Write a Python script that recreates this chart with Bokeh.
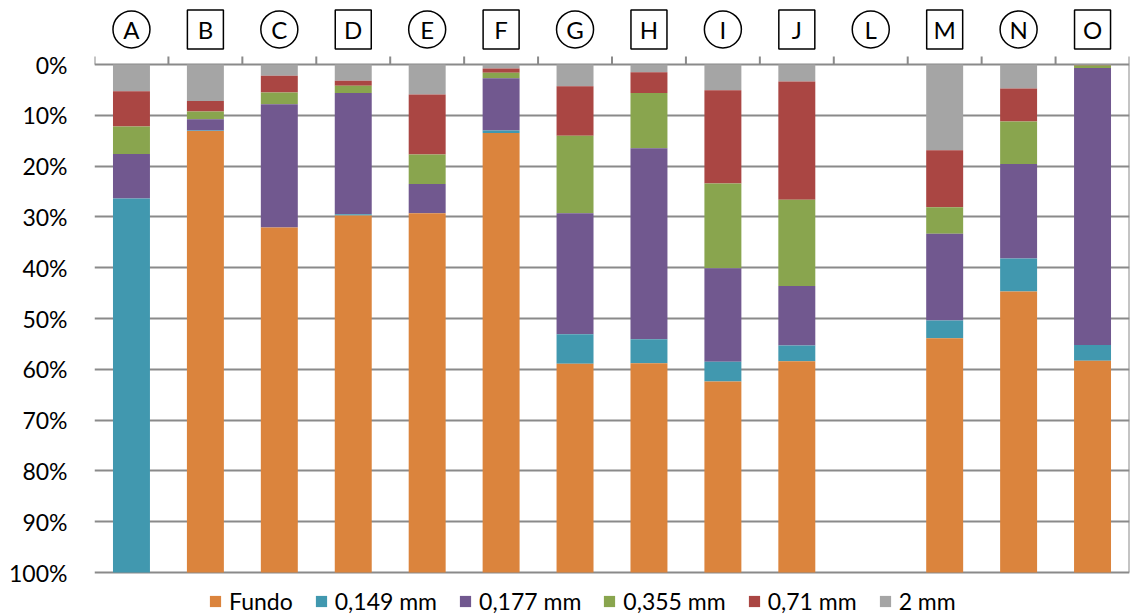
from bokeh.plotting import figure
from bokeh.models import (ColumnDataSource, FactorRange, Range1d, FixedTicker,
                          PrintfTickFormatter, Legend, LegendItem)
from bokeh.core.properties import value
from bokeh.embed import file_html
from bokeh.resources import INLINE

# Sample identifiers and the badge shape drawn around each one
samples = ["A", "B", "C", "D", "E", "F", "G", "H", "I", "J", "L", "M", "N", "O"]
badges = ["circle", "square", "circle", "square", "circle", "square", "circle",
          "square", "circle", "square", "circle", "square", "circle", "square"]

# Retained fraction per sieve (percent of sample mass)
mm_2 = [5.25, 7.2, 2.2, 3.2, 5.9, 0.8, 4.3, 1.5, 5.05, 3.35, 0, 16.9, 4.7, 0.1]
mm_071 = [6.95, 2.05, 3.3, 1.0, 11.8, 0.8, 9.7, 4.1, 18.35, 23.25, 0, 11.2, 6.5, 0.1]
mm_0355 = [5.4, 1.55, 2.3, 1.4, 5.8, 1.1, 15.3, 10.9, 16.7, 17.0, 0, 5.2, 8.4, 0.5]
mm_0177 = [8.8, 2.2, 24.3, 23.9, 5.8, 10.3, 23.8, 37.6, 18.4, 11.7, 0, 17.1, 18.6, 54.5]
mm_0149 = [73.6, 0.1, 0, 0.2, 0, 0.5, 5.8, 4.7, 3.9, 3.1, 0, 3.5, 6.5, 3.1]
fundo = [0, 86.9, 67.9, 70.3, 70.7, 86.5, 41.1, 41.2, 37.6, 41.6, 0, 46.1, 55.3, 41.7]

series_keys = ["mm_2", "mm_071", "mm_0355", "mm_0177", "mm_0149", "fundo"]
series_labels = ["2 mm", "0,71 mm", "0,355 mm", "0,177 mm", "0,149 mm", "Fundo"]
series_colors = ["#A5A5A5", "#AA4643", "#89A54E", "#71588F", "#4198AF", "#DB843D"]
y_ticks = [0, 10, 20, 30, 40, 50, 60, 70, 80, 90, 100]

FONT = "Lato"
GRID = "#8A8A8A"

source = ColumnDataSource(dict(
    sample=samples, mm_2=mm_2, mm_071=mm_071, mm_0355=mm_0355,
    mm_0177=mm_0177, mm_0149=mm_0149, fundo=fundo,
))

# The frame covers the whole page height; the percent scale runs from the
# top axis line (0%) down to 100%, with room above for badges and below for
# the legend.
p = figure(
    width=1131, height=615,
    x_range=FactorRange(*samples, range_padding=0),
    y_range=Range1d(108.46, -12.6),
    x_axis_location=None,
    output_backend="svg", toolbar_location=None,
    min_border_left=94, min_border_right=2, min_border_top=0, min_border_bottom=0,
)
p.outline_line_color = None
p.background_fill_color = "white"
p.border_fill_color = "white"
p.xgrid.visible = False

p.yaxis.ticker = FixedTicker(ticks=y_ticks)
p.yaxis.formatter = PrintfTickFormatter(format="%d%%")
p.yaxis.axis_line_color = None
p.yaxis.major_tick_line_color = None
p.yaxis.minor_tick_line_color = None
p.yaxis.major_label_standoff = 21
p.yaxis.major_label_text_font = FONT
p.yaxis.major_label_text_font_size = "23px"
p.yaxis.major_label_text_color = "black"
p.ygrid.ticker = FixedTicker(ticks=y_ticks)
p.ygrid.grid_line_color = GRID
p.ygrid.grid_line_width = 2

# Stacked bars
bars = p.vbar_stack(series_keys, x="sample", width=0.5, source=source,
                    color=series_colors, line_color=None)

# Category boundary ticks on the top axis and the right-hand frame line
n = len(samples)
bounds = list(range(n + 1))
p.segment(x0=bounds, x1=bounds, y0=[0] * (n + 1), y1=[-1.6] * (n + 1),
          line_color=GRID, line_width=2)
p.segment(x0=[n], x1=[n], y0=[0], y1=[100], line_color=GRID, line_width=2)

# Sample badges above the bars: circles and boxes around the letters
badge_y = -6.9
circ = [s for s, b in zip(samples, badges) if b == "circle"]
boxed = [s for s, b in zip(samples, badges) if b == "square"]
p.scatter(x=circ, y=[badge_y] * len(circ), marker="circle", size=37,
          fill_color="white", line_color="black", line_width=1.5)
p.rect(x=boxed, y=[badge_y] * len(boxed), width=36, height=39,
       width_units="screen", height_units="screen",
       fill_color="white", line_color="black", line_width=1.5)
p.text(x=samples, y=[badge_y] * n, text=samples,
       text_align="center", text_baseline="middle",
       text_font=value(FONT), text_font_size="24px", text_color="black")

# Legend: Fundo first, coarsest sieve last
order = [5, 4, 3, 2, 1, 0]
legend = Legend(
    items=[LegendItem(label=series_labels[i], renderers=[bars[i]]) for i in order],
    orientation="horizontal", location=(114, 0),
    label_text_font=FONT, label_text_font_size="23px", label_text_color="black",
    glyph_width=14, glyph_height=14, label_standoff=7, spacing=21,
    label_height=28, padding=0, margin=0, border_line_color=None,
    background_fill_alpha=0,
)
p.add_layout(legend, "center")

open("out.html", "w").write(file_html(p, INLINE))
